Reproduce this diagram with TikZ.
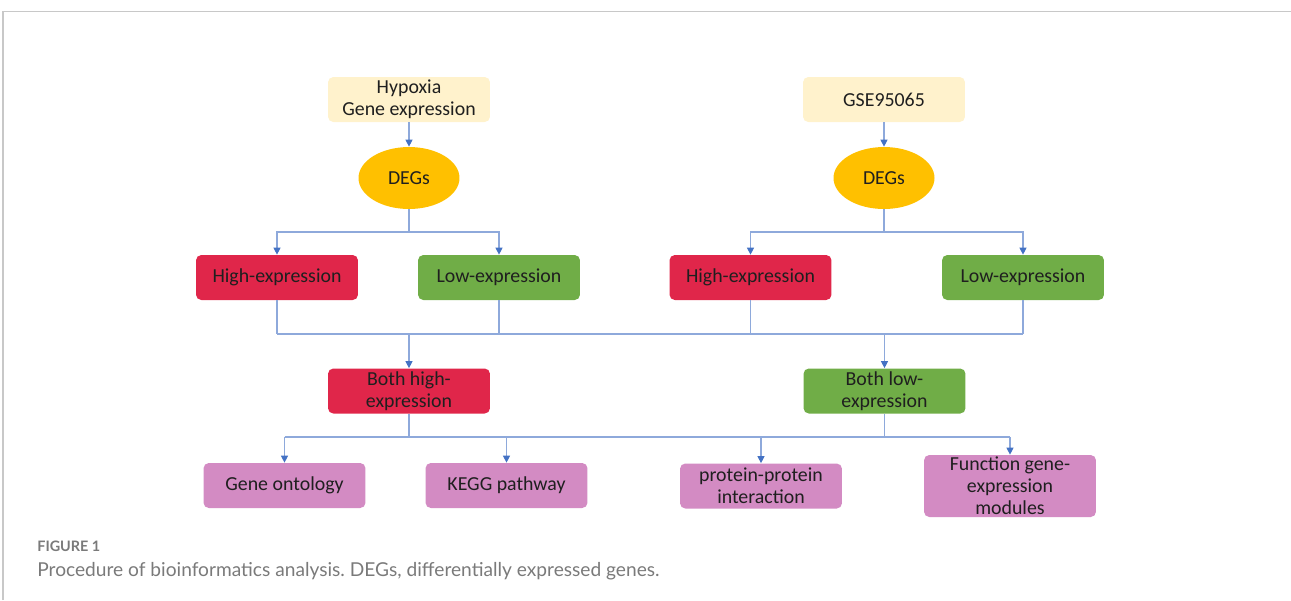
\documentclass[tikz,border=0pt]{standalone}
\usepackage{fontspec}
\setmainfont{Carlito}
\newfontfamily\capfont{Lato}
\frenchspacing
\usetikzlibrary{arrows.meta,shapes.geometric}
\definecolor{cream}{HTML}{FFF2CC}
\definecolor{degy}{HTML}{FFC000}
\definecolor{hired}{HTML}{E0264A}
\definecolor{logrn}{HTML}{70AD47}
\definecolor{pinkb}{HTML}{D38BC3}
\definecolor{lnblue}{HTML}{8EA9DB}
\definecolor{arblue}{HTML}{4472C4}
\definecolor{framegray}{HTML}{C8C8C8}
\definecolor{capgray}{HTML}{7A7A7A}
\tikzset{
  box/.style={rectangle, rounded corners=3pt, minimum width=3.24cm, minimum height=0.9cm, inner sep=1pt, align=center, text=black!88, font=\fontsize{11.3}{12.6}\selectfont},
  srcbox/.style={box, fill=cream},
  hibox/.style={box, fill=hired},
  lobox/.style={box, fill=logrn},
  anbox/.style={box, fill=pinkb},
  degell/.style={ellipse, fill=degy, minimum width=2.02cm, minimum height=1.24cm, inner sep=0pt, text=black!88, font=\fontsize{11.3}{12.6}\selectfont},
  ln/.style={draw=lnblue, line width=0.6pt},
  arr/.style={ln, -{Triangle[length=4pt,width=4pt,color=arblue]}},
}
\begin{document}
\begin{tikzpicture}[x=0.02cm,y=-0.02cm]
\useasboundingbox (0,0) rectangle (1291,600);
% frame
\draw[framegray, line width=0.7pt] (3,600) -- (3,11.5) -- (1291,11.5);
% nodes
\node[srcbox] (hyp) at (409,99.5) {Hypoxia\\Gene expression};
\node[srcbox] (gse) at (884,99.5) {GSE95065};
\node[degell] (deg1) at (409,178) {DEGs};
\node[degell] (deg2) at (884,178) {DEGs};
\node[hibox] (hi1) at (277,277.5) {High-expression};
\node[lobox] (lo1) at (499,277.5) {Low-expression};
\node[hibox] (hi2) at (750.5,277.5) {High-expression};
\node[lobox] (lo2) at (1023,277.5) {Low-expression};
\node[hibox] (bh) at (409,391) {Both high-\\expression};
\node[lobox] (bl) at (884.5,391) {Both low-\\expression};
\node[anbox] (go) at (284.5,485.5) {Gene ontology};
\node[anbox] (kegg) at (506.5,485.5) {KEGG pathway};
\node[anbox] (ppi) at (761,486) {protein-protein\\interaction};
\node[anbox, minimum width=3.44cm, minimum height=1.24cm] (fn) at (1010,486) {Function gene-\\expression\\modules};
% bus coordinates
\coordinate (s1) at (409,232);
\coordinate (s2) at (884,232);
\coordinate (bus) at (0,334);
\coordinate (bus2) at (0,437);
% connectors
\draw[arr] (hyp) -- (deg1);
\draw[arr] (gse) -- (deg2);
\draw[ln] (deg1) -- (s1);
\draw[ln] (deg2) -- (s2);
\draw[arr] (s1) -| (hi1);
\draw[arr] (s1) -| (lo1);
\draw[arr] (s2) -| (hi2);
\draw[arr] (s2) -| (lo2);
\draw[ln] (hi1) -- (hi1 |- bus);
\draw[ln] (lo1) -- (lo1 |- bus);
\draw[ln] (hi2) -- (hi2 |- bus);
\draw[ln] (lo2) -- (lo2 |- bus);
\draw[ln] (hi1 |- bus) -- (lo2 |- bus);
\draw[arr] (bh |- bus) -- (bh);
\draw[arr] (bl |- bus) -- (bl);
\draw[ln] (bh) -- (bh |- bus2);
\draw[ln] (bl) -- (bl |- bus2);
\draw[ln] (go |- bus2) -- (fn |- bus2);
\draw[arr] (go |- bus2) -- (go);
\draw[arr] (kegg |- bus2) -- (kegg);
\draw[arr] (ppi |- bus2) -- (ppi);
\draw[arr] (fn |- bus2) -- (fn);
% caption
\node[anchor=base west, inner sep=0pt, text=capgray, font=\capfont\bfseries\fontsize{8.2}{9}\selectfont] (figlab) at (37,551) {FIGURE 1};
\node[anchor=base west, inner sep=0pt, text=capgray, font=\capfont\fontsize{10.9}{12}\selectfont] (caption) at (37,576) {Procedure of bioinformatics analysis. DEGs, differentially expressed genes.};
\end{tikzpicture}
\end{document}
